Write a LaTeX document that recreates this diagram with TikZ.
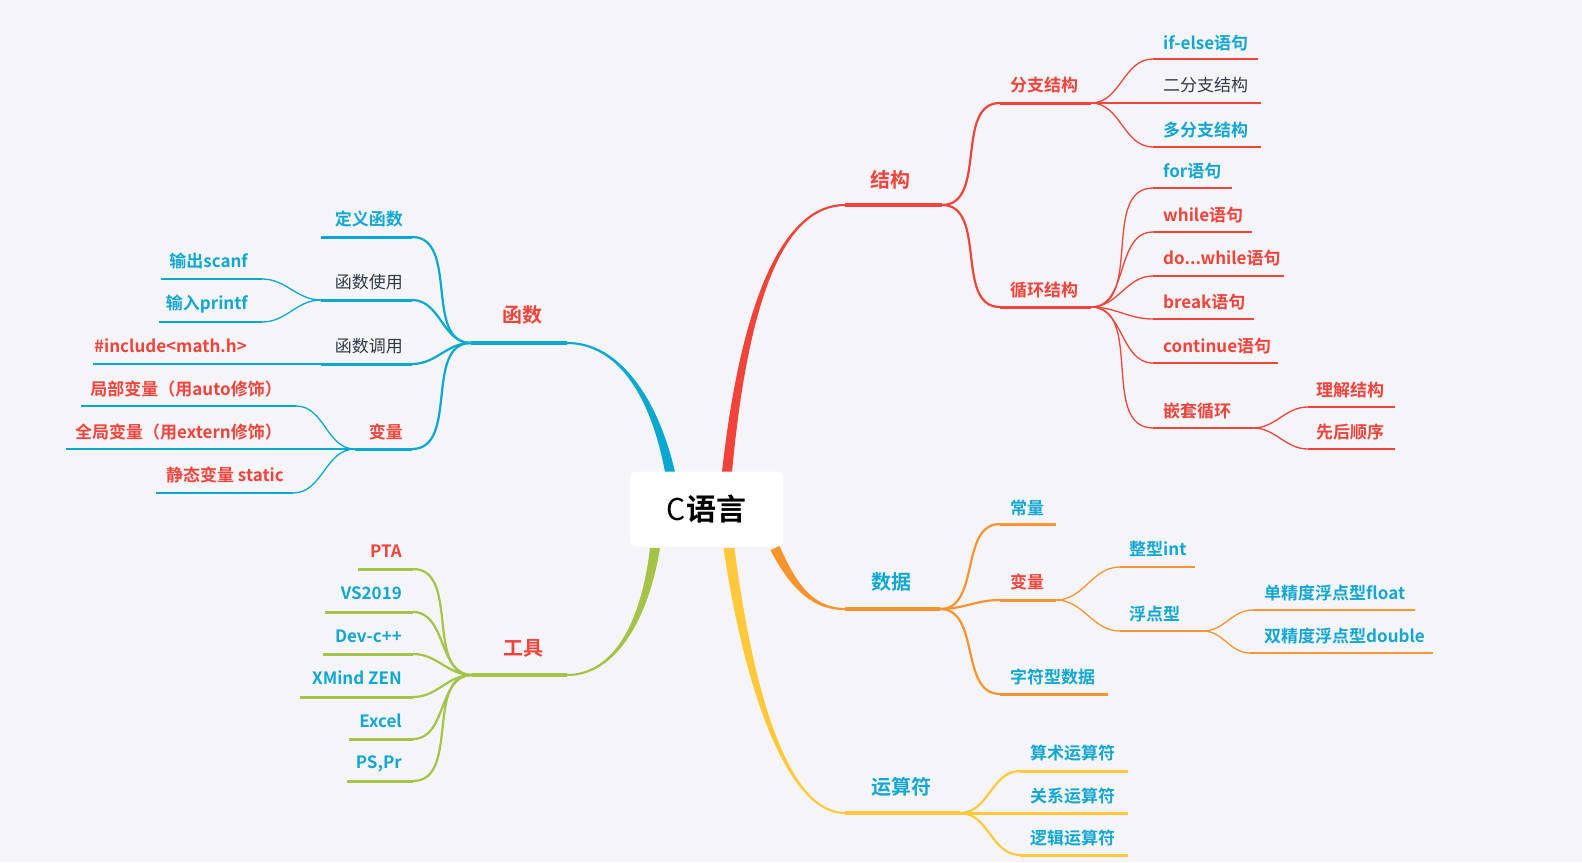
\documentclass[tikz,border=0pt]{standalone}
\usepackage{fontspec}
\setmainfont{Noto Sans CJK SC}[BoldFont={Noto Sans CJK SC Bold}]
\usetikzlibrary{calc}
\definecolor{bg}{HTML}{F5F5F9}
\definecolor{cred}{HTML}{F0433A}
\definecolor{cblue}{HTML}{08A8D0}
\definecolor{cgreen}{HTML}{A3C447}
\definecolor{corange}{HTML}{F7942D}
\definecolor{cyellow}{HTML}{FFC93B}
\definecolor{tblue}{HTML}{12A6D2}
\definecolor{tred}{HTML}{F0433A}
\definecolor{tdark}{HTML}{2E3A46}
\tikzset{
 labA/.style={inner sep=0pt, font=\fontsize{20}{24}\selectfont\bfseries},
 lab/.style={inner sep=0pt, font=\fontsize{17}{20}\selectfont\bfseries},
 labN/.style={inner sep=0pt, font=\fontsize{17}{20}\selectfont, text=tdark},
 ulA/.style={line width=3.5pt},
 ulB/.style={line width=3pt},
 cvB/.style={line width=2.2pt},
 ulC/.style={line width=1.3pt},
 cvC/.style={line width=1.3pt},
 rcurve/.style={out=0,in=180},
 lcurve/.style={out=180,in=0},
 rootbox/.style={fill=white, rounded corners=6pt, minimum width=153pt, minimum height=75pt, inner sep=0pt}
}
\begin{document}
\begin{tikzpicture}[x=1pt,y=-1pt]
\fill[bg] (0,0) rectangle (1582,862);
\useasboundingbox (0,0) rectangle (1582,862);

% ---------------- RED: 结构 ----------------
\coordinate (r0) at (727,472);
\coordinate (rc1) at (745,295);
\coordinate (rc2) at (785,205);
\coordinate (jg1) at (845,205);
\coordinate (jg2) at (942,205);
\fill[cred] ($(r0)+(-5,0)$) .. controls ($(rc1)+(-3.5,0)$) and ($(rc2)+(0,-1.5)$) .. ($(jg1)+(0,-1)$)
  -- ($(jg1)+(0,1)$) .. controls ($(rc2)+(0,1.5)$) and ($(rc1)+(3.5,0)$) .. ($(r0)+(5,0)$) -- cycle;
\draw[cred,ulA] (jg1) -- (jg2);
\node[labA,text=tred] (jg) at (890,180) {结构};

\coordinate (fz1) at (1000,103); \coordinate (fz2) at (1091,103);
\coordinate (xh1) at (1000,307); \coordinate (xh2) at (1091,307);
\draw[cred,cvB] (jg2) to[rcurve] (fz1);
\draw[cred,cvB] (jg2) to[rcurve] (xh1);
\draw[cred,ulB] (fz1) -- (fz2);
\draw[cred,ulB] (xh1) -- (xh2);
\node[lab,text=tred,anchor=west] (fz) at (1010,85) {分支结构};
\node[lab,text=tred,anchor=west] (xh) at (1010,290) {循环结构};

% 分支结构 children
\coordinate (ifl) at (1153,59);  \coordinate (ifr) at (1258,59);
\coordinate (ebr) at (1261,103);
\coordinate (dfl) at (1153,147); \coordinate (dfr) at (1261,147);
\draw[cred,cvC] (fz2) to[rcurve] (ifl);
\draw[cred,cvC] (fz2) to[rcurve] (dfl);
\draw[cred,ulC] (ifl) -- (ifr);
\draw[cred,ulC] (fz2) -- (ebr);
\draw[cred,ulC] (dfl) -- (dfr);
\node[lab,text=tblue,anchor=west] (ifs) at (1163,43) {if-else语句};
\node[labN,anchor=west] (ebz) at (1163,85) {二分支结构};
\node[lab,text=tblue,anchor=west] (dfz) at (1163,130) {多分支结构};

% 循环结构 children
\coordinate (forl) at (1153,188); \coordinate (forr) at (1232,188);
\coordinate (whl) at (1153,232);  \coordinate (whr) at (1252,232);
\coordinate (dwl) at (1153,276);  \coordinate (dwr) at (1284,276);
\coordinate (brl) at (1153,319);  \coordinate (brr) at (1254,319);
\coordinate (col) at (1153,363);  \coordinate (cor) at (1278,363);
\coordinate (qtl) at (1153,428);  \coordinate (qtr) at (1253,428);
\foreach \c in {forl,whl,dwl,brl,col,qtl}{\draw[cred,cvC] (xh2) to[rcurve] (\c);}
\draw[cred,line width=2.3pt] (forl) -- (forr);
\draw[cred,ulC] (whl) -- (whr);
\draw[cred,ulC] (dwl) -- (dwr);
\draw[cred,ulC] (brl) -- (brr);
\draw[cred,ulC] (col) -- (cor);
\draw[cred,ulC] (qtl) -- (qtr);
\node[lab,text=tblue,anchor=west] (fors) at (1163,171) {for语句};
\node[lab,text=tred,anchor=west] (whs) at (1163,215) {while语句};
\node[lab,text=tred,anchor=west] (dws) at (1163,258) {do...while语句};
\node[lab,text=tred,anchor=west] (brs) at (1163,302) {break语句};
\node[lab,text=tred,anchor=west] (cos) at (1163,346) {continue语句};
\node[lab,text=tred,anchor=west] (qts) at (1163,411) {嵌套循环};

\coordinate (ljl) at (1308,407); \coordinate (ljr) at (1395,407);
\coordinate (hxl) at (1308,449); \coordinate (hxr) at (1395,449);
\draw[cred,cvC] (qtr) to[rcurve] (ljl);
\draw[cred,cvC] (qtr) to[rcurve] (hxl);
\draw[cred,line width=2pt] (ljl) -- (ljr);
\draw[cred,line width=2pt] (hxl) -- (hxr);
\node[lab,text=tred,anchor=west] (ljs) at (1316,390) {理解结构};
\node[lab,text=tred,anchor=west] (hxs) at (1316,432) {先后顺序};

% ---------------- BLUE: 函数 ----------------
\coordinate (b0) at (670,472);
\coordinate (bc1) at (655,400);
\coordinate (bc2) at (620,343);
\coordinate (hs2) at (567,343);
\coordinate (hs1) at (471,343);
\fill[cblue] ($(b0)+(5,0)$) .. controls ($(bc1)+(3.5,0)$) and ($(bc2)+(0,-1.5)$) .. ($(hs2)+(0,-1)$)
  -- ($(hs2)+(0,1)$) .. controls ($(bc2)+(0,1.5)$) and ($(bc1)+(-3.5,0)$) .. ($(b0)+(-5,0)$) -- cycle;
\draw[cblue,ulA] (hs2) -- (hs1);
\node[labA,text=tred] (hs) at (522,315) {函数};

\coordinate (dy2) at (412,237);  \coordinate (dy1) at (321,237);
\coordinate (sy2) at (412,300);  \coordinate (sy1) at (321,300);
\coordinate (dd2) at (412,364);  \coordinate (dd1) at (321,364);
\coordinate (vb2) at (412,449);  \coordinate (vb1) at (355,449);
\foreach \c in {dy2,sy2,dd2,vb2}{\draw[cblue,cvB] (hs1) to[lcurve] (\c);}
\draw[cblue,ulB] (dy2) -- (dy1);
\draw[cblue,ulB] (sy2) -- (sy1);
\draw[cblue,ulB] (dd2) -- (dd1);
\draw[cblue,ulB] (vb2) -- (vb1);
\node[lab,text=tblue,anchor=east] (dyhs) at (403,219) {定义函数};
\node[labN,anchor=east] (hssy) at (403,282) {函数使用};
\node[labN,anchor=east] (hsdy) at (403,346) {函数调用};
\node[lab,text=tred,anchor=east] (hsbl) at (403,432) {变量};

\coordinate (sc2) at (262,279); \coordinate (sc1) at (161,279);
\coordinate (pr2) at (262,322); \coordinate (pr1) at (159,322);
\draw[cblue,cvC] (sy1) to[lcurve] (sc2);
\draw[cblue,cvC] (sy1) to[lcurve] (pr2);
\draw[cblue,ulC] (sc2) -- (sc1);
\draw[cblue,ulC] (pr2) -- (pr1);
\node[lab,text=tblue,anchor=east] (scs) at (248,261) {输出scanf};
\node[lab,text=tblue,anchor=east] (prs) at (248,304) {输入printf};

\coordinate (inc) at (93,364);
\draw[cblue,ulC] (dd1) -- (inc);
\node[lab,text=tred,anchor=east] (incs) at (247,346) {\#include<math.h>};

\coordinate (jb2) at (296,406); \coordinate (jb1) at (81,406);
\coordinate (qj1) at (66,449);
\coordinate (jt2) at (293,493); \coordinate (jt1) at (156,493);
\draw[cblue,cvC] (vb1) to[lcurve] (jb2);
\draw[cblue,cvC] (vb1) to[lcurve] (jt2);
\draw[cblue,ulC] (jb2) -- (jb1);
\draw[cblue,ulC] (vb1) -- (qj1);
\draw[cblue,ulC] (jt2) -- (jt1);
\node[lab,text=tred,anchor=east] (jbs) at (282,389) {局部变量（用auto修饰）};
\node[lab,text=tred,anchor=east] (qjs) at (282,432) {全局变量（用extern修饰）};
\node[lab,text=tred,anchor=east] (jts) at (284,475) {静态变量 static};

% ---------------- GREEN: 工具 ----------------
\coordinate (g0) at (655,548);
\coordinate (gc1) at (645,620);
\coordinate (gc2) at (615,675);
\coordinate (gj2) at (567,675);
\coordinate (gj1) at (472,675);
\fill[cgreen] ($(g0)+(5,0)$) .. controls ($(gc1)+(3.5,0)$) and ($(gc2)+(0,1.5)$) .. ($(gj2)+(0,1)$)
  -- ($(gj2)+(0,-1)$) .. controls ($(gc2)+(0,-1.5)$) and ($(gc1)+(-3.5,0)$) .. ($(g0)+(-5,0)$) -- cycle;
\draw[cgreen,ulA] (gj2) -- (gj1);
\node[labA,text=tred] (gj) at (523,648) {工具};

\coordinate (pta2) at (413,569); \coordinate (pta1) at (358,569);
\coordinate (vs2) at (413,612);  \coordinate (vs1) at (325,612);
\coordinate (dev2) at (413,654); \coordinate (dev1) at (323,654);
\coordinate (xm2) at (413,697);  \coordinate (xm1) at (300,697);
\coordinate (ex2) at (413,739);  \coordinate (ex1) at (349,739);
\coordinate (ps2) at (413,781);  \coordinate (ps1) at (347,781);
\foreach \c in {pta2,vs2,dev2,xm2,ex2,ps2}{\draw[cgreen,cvB] (gj1) to[lcurve] (\c);}
\draw[cgreen,ulB] (pta2) -- (pta1);
\draw[cgreen,ulB] (vs2) -- (vs1);
\draw[cgreen,ulB] (dev2) -- (dev1);
\draw[cgreen,ulB] (xm2) -- (xm1);
\draw[cgreen,ulB] (ex2) -- (ex1);
\draw[cgreen,ulB] (ps2) -- (ps1);
\node[lab,text=tred,anchor=east] (ptas) at (402,551) {PTA};
\node[lab,text=tblue,anchor=east] (vss) at (402,593) {VS2019};
\node[lab,text=tblue,anchor=east] (devs) at (402,636) {Dev-c++};
\node[lab,text=tblue,anchor=east] (xms) at (402,678) {XMind ZEN};
\node[lab,text=tblue,anchor=east] (exs) at (402,721) {Excel};
\node[lab,text=tblue,anchor=east] (pss) at (402,764) {PS,Pr};

% ---------------- ORANGE: 数据 ----------------
\coordinate (o0) at (775,548);
\coordinate (oc1) at (795,590);
\coordinate (oc2) at (815,609);
\coordinate (sj1) at (845,609);
\coordinate (sj2) at (940,609);
\fill[corange] ($(o0)+(-4.5,2.2)$) .. controls ($(oc1)+(-3.2,1.5)$) and ($(oc2)+(0,1.5)$) .. ($(sj1)+(0,1)$)
  -- ($(sj1)+(0,-1)$) .. controls ($(oc2)+(0,-1.5)$) and ($(oc1)+(3.2,-1.5)$) .. ($(o0)+(4.5,-2.2)$) -- cycle;
\draw[corange,ulA] (sj1) -- (sj2);
\node[labA,text=tblue] (sj) at (891,582) {数据};

\coordinate (cl1) at (1000,524); \coordinate (cl2) at (1056,524);
\coordinate (db1) at (1000,600); \coordinate (db2) at (1056,600);
\coordinate (zf1) at (1000,694); \coordinate (zf2) at (1108,694);
\foreach \c in {cl1,db1,zf1}{\draw[corange,cvB] (sj2) to[rcurve] (\c);}
\draw[corange,ulB] (cl1) -- (cl2);
\draw[corange,ulB] (db1) -- (db2);
\draw[corange,ulB] (zf1) -- (zf2);
\node[lab,text=tblue,anchor=west] (cls) at (1010,508) {常量};
\node[lab,text=tred,anchor=west] (dbs) at (1010,582) {变量};
\node[lab,text=tblue,anchor=west] (zfs) at (1010,677) {字符型数据};

\coordinate (zx1) at (1120,567); \coordinate (zx2) at (1195,567);
\coordinate (fd1) at (1120,631); \coordinate (fd2) at (1203,631);
\draw[corange,cvC] (db2) to[rcurve] (zx1);
\draw[corange,cvC] (db2) to[rcurve] (fd1);
\draw[corange,ulC] (zx1) -- (zx2);
\draw[corange,ulC] (fd1) -- (fd2);
\node[lab,text=tblue,anchor=west] (zxs) at (1129,549) {整型int};
\node[lab,text=tblue,anchor=west] (fds) at (1129,614) {浮点型};

\coordinate (dj1) at (1253,610); \coordinate (dj2) at (1415,610);
\coordinate (sp1) at (1250,653); \coordinate (sp2) at (1433,653);
\draw[corange,cvC] (fd2) to[rcurve] (dj1);
\draw[corange,cvC] (fd2) to[rcurve] (sp1);
\draw[corange,ulC] (dj1) -- (dj2);
\draw[corange,ulC] (sp1) -- (sp2);
\node[lab,text=tblue,anchor=west] (djs) at (1264,593) {单精度浮点型float};
\node[lab,text=tblue,anchor=west] (sps) at (1264,636) {双精度浮点型double};

% ---------------- YELLOW: 运算符 ----------------
\coordinate (y0) at (729,548);
\coordinate (yc1) at (750,700);
\coordinate (yc2) at (790,813);
\coordinate (ys1) at (845,813);
\coordinate (ys2) at (960,813);
\fill[cyellow] ($(y0)+(-5.5,0)$) .. controls ($(yc1)+(-4,0)$) and ($(yc2)+(0,1.5)$) .. ($(ys1)+(0,1)$)
  -- ($(ys1)+(0,-1)$) .. controls ($(yc2)+(0,-1.5)$) and ($(yc1)+(4,0)$) .. ($(y0)+(5.5,0)$) -- cycle;
\draw[cyellow,ulA] (ys1) -- (ys2);
\node[labA,text=tblue,anchor=west] (ys) at (871,787) {运算符};

\coordinate (ss1) at (1020,771); \coordinate (ss2) at (1128,771);
\coordinate (gx2) at (1128,813);
\coordinate (lj1) at (1020,855); \coordinate (lj2) at (1128,855);
\draw[cyellow,cvB] (ys2) to[rcurve] (ss1);
\draw[cyellow,cvB] (ys2) to[rcurve] (lj1);
\draw[cyellow,ulB] (ss1) -- (ss2);
\draw[cyellow,ulB] (ys2) -- (gx2);
\draw[cyellow,ulB] (lj1) -- (lj2);
\node[lab,text=tblue,anchor=west] (sss) at (1030,753) {算术运算符};
\node[lab,text=tblue,anchor=west] (gxs) at (1030,796) {关系运算符};
\node[lab,text=tblue,anchor=west] (ljs2) at (1030,838) {逻辑运算符};

% ---------------- ROOT ----------------
\node[rootbox] (root) at (706.5,509) {\fontsize{30}{36}\selectfont C\textbf{语言}};
\end{tikzpicture}
\end{document}
